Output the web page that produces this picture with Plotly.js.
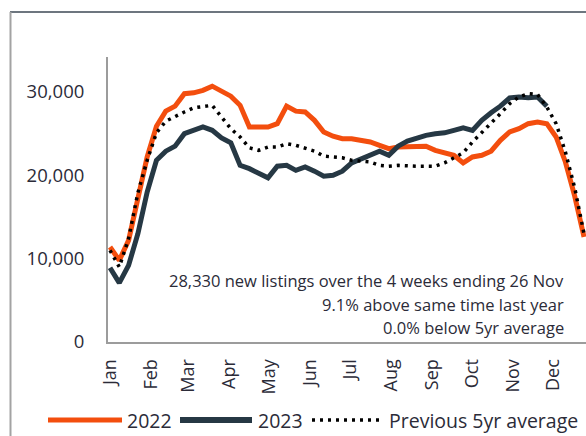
<!DOCTYPE html>
<html>
<head>
<meta charset="utf-8">
<script src="https://cdn.plot.ly/plotly-3.0.1.min.js"></script>
<style>
  html, body { margin: 0; padding: 0; background: #ffffff; }
  #chart { width: 586px; height: 436px; }
</style>
</head>
<body>
<div id="chart"></div>
<script>
// ---- Data (weekly new listings) ----
const startWeek = '2023-01-01';
const seriesNames = ['2022', '2023', 'Previous 5yr average'];

const listings2022 = [11400, 9800, 12200, 17500, 22200, 25900, 27700, 28300, 29800, 29900,
  30200, 30700, 30100, 29500, 28400, 25800, 25800, 25800, 26200, 28300,
  27700, 27600, 26600, 25200, 24700, 24400, 24400, 24200, 24000, 23600,
  23200, 23400, 23400, 23400, 23500, 23000, 22700, 22400, 21500, 22200,
  22400, 22900, 24200, 25200, 25600, 26200, 26400, 26200, 24600, 21600,
  17500, 12600];

const listings2023 = [8900, 7100, 9200, 13000, 18000, 21800, 22900, 23500, 25000, 25400,
  25800, 25400, 24500, 23900, 21200, 20800, 20300, 19700, 21100, 21200,
  20600, 21000, 20500, 19900, 20000, 20500, 21500, 22000, 22400, 22900,
  22400, 23500, 24100, 24500, 24800, 25000, 25100, 25400, 25700, 25400,
  26600, 27500, 28300, 29300, 29400, 29300, 29400, 28300];

const avg5yr = [11000, 9000, 12400, 17900, 21800, 25100, 26500, 27100, 27600, 28100,
  28300, 28400, 27000, 25600, 24600, 23300, 23000, 23400, 23400, 23800,
  23600, 23300, 22900, 22300, 22200, 22100, 21800, 21700, 21600, 21200,
  21100, 21200, 21100, 21100, 21100, 21100, 21500, 22100, 22700, 24000,
  25100, 26300, 27400, 28600, 29400, 29800, 29700, 28200, 26200, 22800,
  18500, 13000];

const monthTicks = ['2023-01-01','2023-02-01','2023-03-01','2023-04-01','2023-05-01','2023-06-01',
  '2023-07-01','2023-08-01','2023-09-01','2023-10-01','2023-11-01','2023-12-01'];
const monthLabels = ['Jan','Feb','Mar','Apr','May','Jun','Jul','Aug','Sep','Oct','Nov','Dec'];

const yTicks = [0, 10000, 20000, 30000];

const noteLines = [
  '28,330 new listings over the 4 weeks ending 26 Nov',
  '9.1% above same time last year',
  '0.0% below 5yr average'
];

// week axis (one date per weekly observation)
function weekDates(n) {
  const out = [];
  const d0 = new Date(startWeek + 'T00:00:00Z');
  for (let i = 0; i < n; i++) {
    const d = new Date(d0.getTime() + i * 7 * 86400000);
    out.push(d.toISOString().slice(0, 10));
  }
  return out;
}

const ORANGE = '#f34e0e';
const NAVY = '#263844';
const TEXT = '#2b2b38';
const FONT = 'Open Sans, Lato, sans-serif';

const traces = [
  { x: weekDates(listings2022.length), y: listings2022, name: seriesNames[0], type: 'scatter', mode: 'lines',
    line: { color: ORANGE, width: 5 }, hoverinfo: 'skip' },
  { x: weekDates(listings2023.length), y: listings2023, name: seriesNames[1], type: 'scatter', mode: 'lines',
    line: { color: NAVY, width: 5 }, hoverinfo: 'skip' },
  { x: weekDates(avg5yr.length), y: avg5yr, name: seriesNames[2], type: 'scatter', mode: 'lines',
    line: { color: '#000000', width: 3.5, dash: '3px,5px' }, hoverinfo: 'skip' }
];

// plot area in pixels: left 108, right 586, top 57, bottom 342
const L = 108, W = 478, T = 57, H = 285;
const px = v => (v - L) / W;
const py = v => (T + H - v) / H;

const legendY = py(420);
const shapes = [
  // frame lines
  { type: 'line', xref: 'paper', yref: 'paper', x0: px(10), x1: px(586), y0: py(12), y1: py(12),
    line: { color: '#3c4954', width: 1.5 } },
  { type: 'line', xref: 'paper', yref: 'paper', x0: px(10.5), x1: px(10.5), y0: py(12), y1: py(436),
    line: { color: '#a3a3a3', width: 2 } },
  // legend samples
  { type: 'line', xref: 'paper', yref: 'paper', x0: px(48), x1: px(122), y0: legendY, y1: legendY,
    line: { color: ORANGE, width: 5 } },
  { type: 'line', xref: 'paper', yref: 'paper', x0: px(180), x1: px(252), y0: legendY, y1: legendY,
    line: { color: NAVY, width: 6 } },
  { type: 'line', xref: 'paper', yref: 'paper', x0: px(312), x1: px(384), y0: legendY, y1: legendY,
    line: { color: '#000000', width: 3.5, dash: '3px,5px' } }
];

const legendFont = { family: FONT, size: 19.5, color: TEXT };
const noteFont = { family: FONT, size: 16.5, color: TEXT };
const annotations = [
  { xref: 'paper', yref: 'paper', x: px(125), y: legendY, xanchor: 'left', yanchor: 'middle',
    text: seriesNames[0], showarrow: false, font: legendFont },
  { xref: 'paper', yref: 'paper', x: px(256), y: legendY, xanchor: 'left', yanchor: 'middle',
    text: seriesNames[1], showarrow: false, font: legendFont },
  { xref: 'paper', yref: 'paper', x: px(387), y: legendY, xanchor: 'left', yanchor: 'middle',
    text: seriesNames[2], showarrow: false, font: legendFont },
  { xref: 'paper', yref: 'paper', x: px(566), y: py(280), xanchor: 'right', yanchor: 'middle',
    text: noteLines[0], showarrow: false, font: noteFont },
  { xref: 'paper', yref: 'paper', x: px(566), y: py(304), xanchor: 'right', yanchor: 'middle',
    text: noteLines[1], showarrow: false, font: noteFont },
  { xref: 'paper', yref: 'paper', x: px(566), y: py(327), xanchor: 'right', yanchor: 'middle',
    text: noteLines[2], showarrow: false, font: noteFont }
];

const layout = {
  width: 586, height: 436,
  margin: { l: L, r: 586 - L - W, t: T, b: 436 - T - H, pad: 0 },
  paper_bgcolor: '#ffffff', plot_bgcolor: '#ffffff',
  showlegend: false,
  font: { family: FONT, color: TEXT },
  xaxis: {
    type: 'date',
    range: ['2022-12-30 12:00', '2023-12-25 12:00'],
    tickmode: 'array', tickvals: monthTicks, ticktext: monthLabels,
    tickangle: -90,
    showgrid: false, zeroline: false,
    showline: true, linecolor: '#9c9c9c', linewidth: 2,
    ticks: 'outside', ticklen: 8, tickcolor: 'rgba(0,0,0,0)',
    tickfont: { family: FONT, size: 18, color: TEXT }
  },
  yaxis: {
    range: [0, 34200],
    tickmode: 'array', tickvals: yTicks, tickformat: ',d',
    showgrid: false, zeroline: false,
    showline: true, linecolor: '#9c9c9c', linewidth: 2,
    ticks: 'outside', ticklen: 18, tickcolor: 'rgba(0,0,0,0)',
    tickfont: { family: FONT, size: 18.5, color: TEXT }
  },
  shapes: shapes,
  annotations: annotations
};

Plotly.newPlot('chart', traces, layout, { staticPlot: true, displayModeBar: false });
</script>
</body>
</html>
